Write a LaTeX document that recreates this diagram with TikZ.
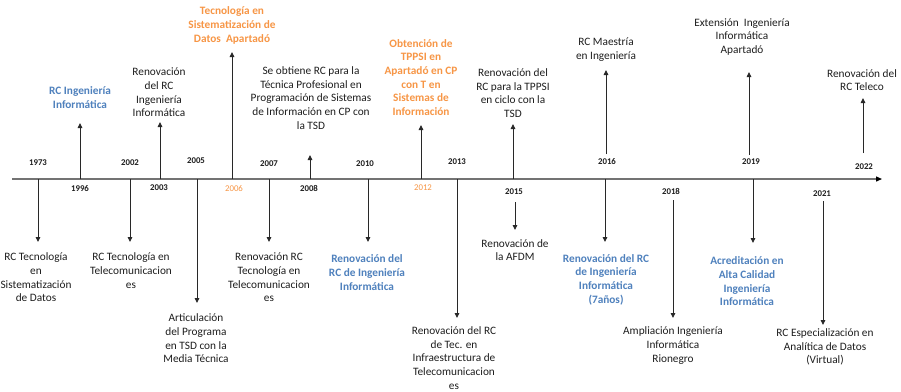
\documentclass[tikz,border=0pt]{standalone}
\usepackage{fontspec}
\setmainfont{Carlito}
\usetikzlibrary{arrows.meta}
\definecolor{txt}{RGB}{30,30,30}
\definecolor{ablue}{RGB}{79,129,189}
\definecolor{aorange}{RGB}{247,150,70}
\definecolor{lin}{RGB}{40,40,40}
\begin{document}
\begin{tikzpicture}[x=1pt,y=-1pt,
  ev/.style={align=center, font=\fontsize{11.3}{13.7}\selectfont, text=txt, inner sep=0pt},
  evb/.style={ev, font=\fontsize{11.3}{13.7}\selectfont\bfseries, text=ablue},
  evo/.style={ev, font=\fontsize{11.3}{13.7}\selectfont\bfseries, text=aorange},
  yr/.style={font=\fontsize{8.8}{10}\selectfont\bfseries, text=txt, inner sep=0pt},
  yro/.style={yr, text=aorange, font=\fontsize{8.8}{10}\selectfont},
  con/.style={draw=lin, line width=0.9pt, -{Triangle[width=4.5pt,length=5pt]}},
  axisline/.style={draw=black!55, line width=1.3pt, -{Triangle[width=5pt,length=6pt,fill=black,color=black]}}
]
\useasboundingbox (0,0) rectangle (901,391);
\fill[white] (0,0) rectangle (901,391);

% axis
\coordinate (ax0) at (12,179);
\coordinate (ax1) at (882,179);
\draw[axisline] (ax0) -- (ax1);

% year labels above
\node[yr] (y1973) at (38,163) {1973};
\node[yr] (y2002) at (130,163) {2002};
\node[yr] (y2005) at (196,161) {2005};
\node[yr] (y2007) at (269,164) {2007};
\node[yr] (y2010) at (365,164) {2010};
\node[yr] (y2013) at (457,162) {2013};
\node[yr] (y2016) at (607,162) {2016};
\node[yr] (y2019) at (751,162) {2019};
\node[yr] (y2022) at (864,167) {2022};
% year labels below
\node[yr] (y1996) at (80,189) {1996};
\node[yr] (y2003) at (159,188) {2003};
\node[yro] (y2006) at (234,189) {2006};
\node[yr] (y2008) at (309,188) {2008};
\node[yro] (y2012) at (423,188) {2012};
\node[yr] (y2015) at (514,192) {2015};
\node[yr] (y2018) at (671,191) {2018};
\node[yr] (y2021) at (822,194) {2021};

% ---------- upward events ----------
\node[evb] (e1996) at (80,97.5) {RC Ingeniería\\Informática};
\coordinate (a1996) at (80,179); \coordinate (t1996) at (80,123);
\draw[con] (a1996) -- (t1996);

\node[ev] (e2003) at (159,92.5) {Renovación\\del RC\\Ingeniería\\Informática};
\coordinate (a2003) at (160,179); \coordinate (t2003) at (160,122);
\draw[con] (a2003) -- (t2003);

\node[evo] (e2006) at (232,25.5) {Tecnología en\\Sistematización de\\Datos\ \ Apartadó};
\coordinate (a2006) at (232,179); \coordinate (t2006) at (232,52);
\draw[con] (a2006) -- (t2006);

\node[ev] (e2008) at (311,98) {Se obtiene RC para la\\Técnica Profesional en\\Programación de Sistemas\\de Información en CP con\\la TSD};
\coordinate (a2008) at (310,179); \coordinate (t2008) at (310,155);
\draw[con] (a2008) -- (t2008);

\node[evo] (e2012) at (421,77.5) {Obtención de\\TPPSI en\\Apartadó en CP\\con T en\\Sistemas de\\Información};
\coordinate (a2012) at (421,179); \coordinate (t2012) at (421,125);
\draw[con] (a2012) -- (t2012);

\node[ev] (e2015u) at (513,93) {Renovación del\\RC para la TPPSI\\en ciclo con la\\TSD};
\coordinate (a2015u) at (513,179); \coordinate (t2015u) at (513,124);
\draw[con] (a2015u) -- (t2015u);

\node[ev] (e2016u) at (606,49.5) {RC Maestría\\en Ingeniería};
\coordinate (a2016u) at (606,154); \coordinate (t2016u) at (606,70);
\draw[con] (a2016u) -- (t2016u);

\node[ev] (e2019u) at (742,37) {Extensión\ \ Ingeniería\\Informática\\Apartadó};
\coordinate (a2019u) at (749,155); \coordinate (t2019u) at (749,72);
\draw[con] (a2019u) -- (t2019u);

\node[ev] (e2022) at (862,80) {Renovación del\\RC Teleco};
\coordinate (a2022) at (863,153); \coordinate (t2022) at (863,98);
\draw[con] (a2022) -- (t2022);

% ---------- downward events ----------
\node[ev] (e1973) at (36,277.5) {RC Tecnología\\en\\Sistematización\\de Datos};
\coordinate (a1973) at (38,179); \coordinate (t1973) at (38,242);
\draw[con] (a1973) -- (t1973);

\node[ev] (e2002) at (131,270.5) {RC Tecnología en\\Telecomunicacion\\es};
\coordinate (a2002) at (130,179); \coordinate (t2002) at (130,242);
\draw[con] (a2002) -- (t2002);

\node[ev] (e2005) at (196,338.5) {Articulación\\del Programa\\en TSD con la\\Media Técnica};
\coordinate (a2005) at (197,179); \coordinate (t2005) at (197,303);
\draw[con] (a2005) -- (t2005);

\node[ev] (e2007) at (269,277.5) {Renovación RC\\Tecnología en\\Telecomunicacion\\es};
\coordinate (a2007) at (269,179); \coordinate (t2007) at (269,242);
\draw[con] (a2007) -- (t2007);

\node[evb] (e2010) at (367,272.5) {Renovación del\\RC de Ingeniería\\Informática};
\coordinate (a2010) at (368,179); \coordinate (t2010) at (368,242);
\draw[con] (a2010) -- (t2010);

\node[ev] (e2013) at (454,358) {Renovación del RC\\de Tec. en\\Infraestructura de\\Telecomunicacion\\es};
\coordinate (a2013) at (457,179); \coordinate (t2013) at (457,318);
\draw[con] (a2013) -- (t2013);

\node[ev] (e2015d) at (515,250) {Renovación de\\la AFDM};
\coordinate (a2015d) at (515,202); \coordinate (t2015d) at (515,230);
\draw[con] (a2015d) -- (t2015d);

\node[evb] (e2016d) at (606,279.5) {Renovación del RC\\de Ingeniería\\Informática\\(7años)};
\coordinate (a2016d) at (605,179); \coordinate (t2016d) at (605,242);
\draw[con] (a2016d) -- (t2016d);

\node[ev] (e2018) at (673,345.5) {Ampliación Ingeniería\\Informática\\Rionegro};
\coordinate (a2018) at (673,200); \coordinate (t2018) at (673,318);
\draw[con] (a2018) -- (t2018);

\node[evb] (e2019d) at (747,281.5) {Acreditación en\\Alta Calidad\\Ingeniería\\Informática};
\coordinate (a2019d) at (753,179); \coordinate (t2019d) at (753,243);
\draw[con] (a2019d) -- (t2019d);

\node[ev] (e2021) at (825,347) {RC Especialización en\\Analítica de Datos\\(Virtual)};
\coordinate (a2021) at (823,201); \coordinate (t2021) at (823,325);
\draw[con] (a2021) -- (t2021);
\end{tikzpicture}
\end{document}
